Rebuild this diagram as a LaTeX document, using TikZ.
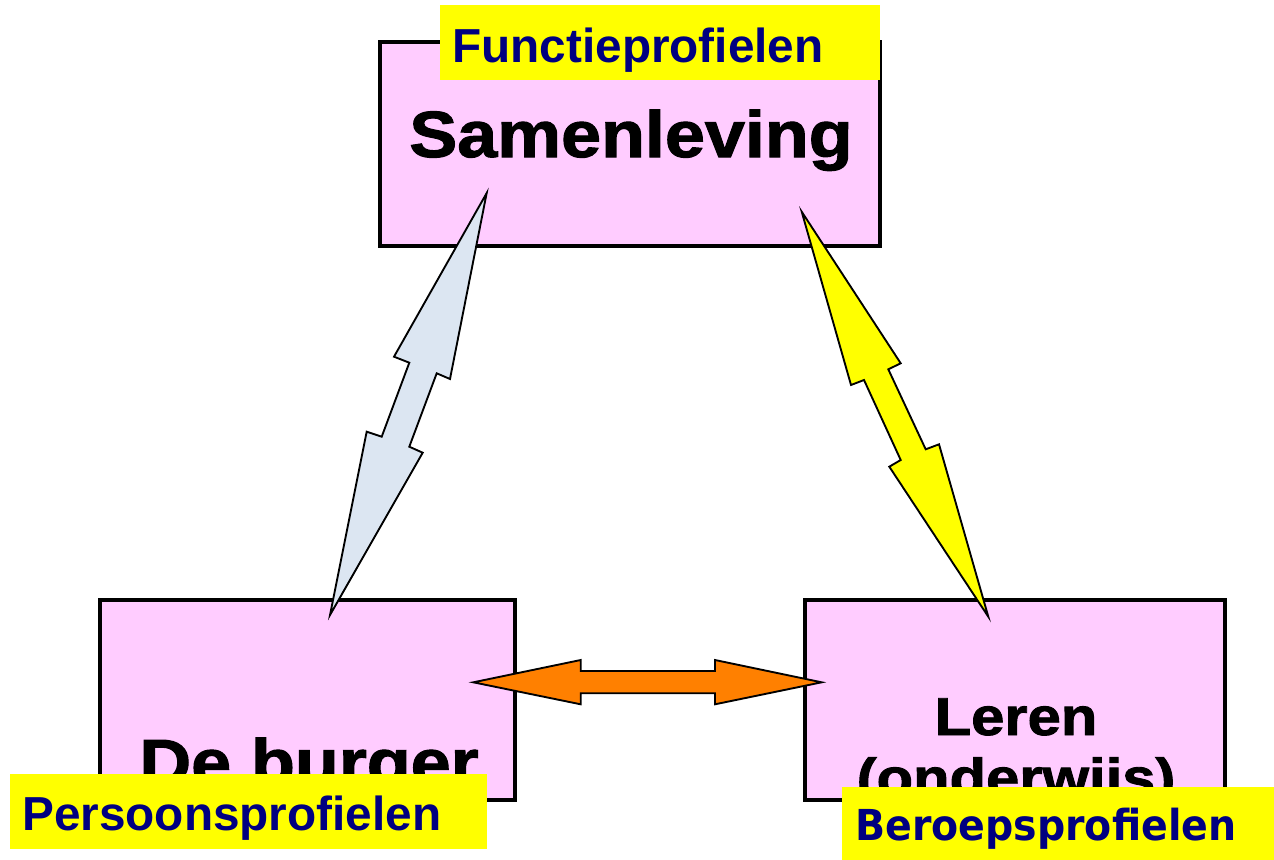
\documentclass[tikz,border=0pt]{standalone}
\usepackage{fontspec}
\setmainfont{Liberation Sans}
\newfontfamily\heavyfont[FakeBold=1.6]{Liberation Sans Bold}
\newfontfamily\lblfont{Liberation Sans Bold}
\newfontfamily\lblfontb{DejaVu Sans Bold}
\usetikzlibrary{shadows}
\definecolor{boxpink}{HTML}{FFCCFF}
\definecolor{lblyellow}{HTML}{FFFF00}
\definecolor{lblnavy}{HTML}{000080}
\definecolor{arrblue}{HTML}{DCE6F2}
\definecolor{arryellow}{HTML}{FFFF00}
\definecolor{arrorange}{HTML}{FF8000}
\tikzset{
  box/.style={draw=black, line width=2.3pt, fill=boxpink, inner sep=0pt,
    drop shadow={shadow xshift=1.5pt, shadow yshift=-1.5pt, fill=black!45, opacity=1}},
  bigtext/.style={inner sep=0pt, anchor=base, text=black},
  lblbox/.style={fill=lblyellow, draw=none, inner sep=0pt},
  lbltext/.style={inner sep=0pt, anchor=base west, text=lblnavy},
  blockarrow/.style={draw=black, line width=1.4pt, line join=miter}
}
\begin{document}
\begin{tikzpicture}[x=0.75pt,y=-0.75pt]
\useasboundingbox (0,0) rectangle (1274,860);
% boxes
\node[box, minimum width=375pt, minimum height=153pt] (sam) at (630,144) {};
\node[box, minimum width=311.25pt, minimum height=150pt] (burger) at (307.5,700) {};
\node[box, minimum width=315pt, minimum height=150pt] (leren) at (1015,700) {};
% box texts
\node[bigtext, font=\heavyfont\fontsize{49}{58}\selectfont] (samtxt) at (631,157) {\scalebox{1.1}[1]{Samenleving}};
\node[bigtext, font=\heavyfont\fontsize{49}{58}\selectfont] (burgertxt) at (309,785) {\scalebox{1.1}[1]{De burger}};
\node[bigtext, font=\heavyfont\fontsize{40}{48}\selectfont] (lerentxt) at (1016,735) {\scalebox{1.12}[1]{Leren}};
\node[bigtext, font=\heavyfont\fontsize{40}{48}\selectfont] (onderwijstxt) at (1016,796) {\scalebox{1.12}[1]{(onderwijs)}};
% arrows
\coordinate (btop) at (486.7,193);
\coordinate (bbot) at (330,615);
\draw[blockarrow, fill=arrblue] (btop) -- (450,379) -- (436.7,373.3) -- (409.3,446.7) -- (422.7,452.7)
  -- (bbot) -- (366.7,431.7) -- (381.7,436.7) -- (409.3,362.7) -- (394,356.7) -- cycle;
\coordinate (ytop) at (801.7,211.7);
\coordinate (ybot) at (988.3,616.7);
\draw[blockarrow, fill=arryellow] (ytop) -- (900.7,363.3) -- (888.3,369.3) -- (925.7,449.3) -- (939,444.3)
  -- (ybot) -- (889.3,466.7) -- (900.7,460) -- (864,380) -- (851,385) -- cycle;
\coordinate (oleft) at (473.3,682.3);
\coordinate (oright) at (821.7,682.3);
\draw[blockarrow, fill=arrorange] (oleft) -- (580.7,660) -- (580.7,671) -- (715,671) -- (715,660)
  -- (oright) -- (715,704.3) -- (715,693.3) -- (580.7,693.3) -- (580.7,704.3) -- cycle;
% labels
\node[lblbox, minimum width=330pt, minimum height=56.25pt] (funclbl) at (660,42.5) {};
\node[lbltext, font=\lblfont\fontsize{35.8}{42}\selectfont] (functxt) at (452,62) {Functieprofielen};
\node[lblbox, minimum width=357.75pt, minimum height=56.25pt] (perslbl) at (248.5,811.5) {};
\node[lbltext, font=\lblfont\fontsize{35.8}{42}\selectfont] (perstxt) at (22,830) {Persoonsprofielen};
\node[lblbox, minimum width=324pt, minimum height=54.75pt] (berlbl) at (1058,823.5) {};
\node[lbltext, font=\lblfontb\fontsize{32}{38}\selectfont] (bertxt) at (855,840) {\scalebox{0.925}[1]{Beroepsprofielen}};
\end{tikzpicture}
\end{document}
